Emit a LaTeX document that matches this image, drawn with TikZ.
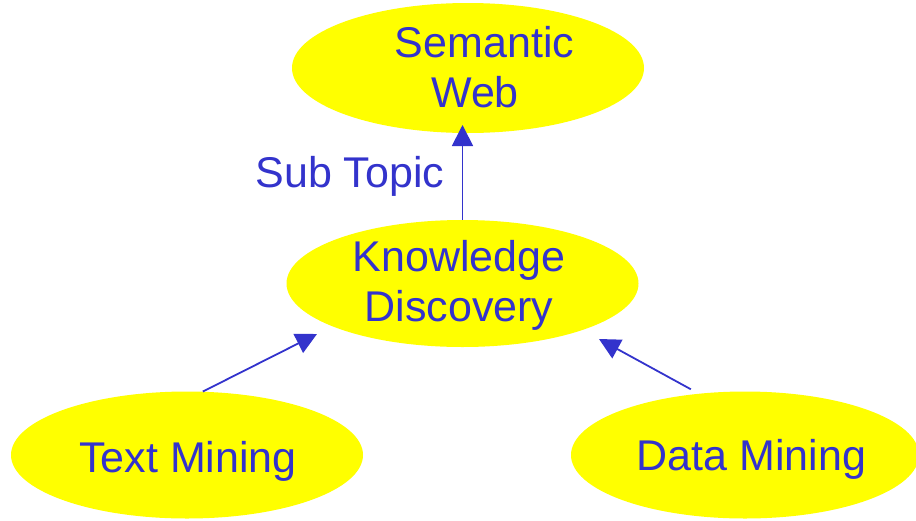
\documentclass[tikz,border=0pt]{standalone}
\usepackage{fontspec}
\setmainfont{Liberation Sans}
\usetikzlibrary{shapes.geometric,arrows.meta}
\definecolor{txtblue}{RGB}{51,51,204}
\definecolor{blobyellow}{RGB}{255,255,0}
\begin{document}
\begin{tikzpicture}[x=1pt,y=-1pt,
  blob/.style={ellipse,fill=blobyellow,draw=none,inner sep=0pt},
  lbl/.style={anchor=base,inner sep=0pt,text=txtblue,font=\fontsize{43}{50}\selectfont},
  conn/.style={draw=txtblue,line width=1.8pt,-{Triangle[length=21pt,width=21pt]}}]
\useasboundingbox (0,0) rectangle (916,520);
\begin{scope}
\clip (0,0) rectangle (916,520);
\node[blob,minimum width=352pt,minimum height=130pt] (sw) at (468,68) {};
\node[blob,minimum width=352pt,minimum height=127pt] (kd) at (462.5,283.5) {};
\node[blob,minimum width=352pt,minimum height=127pt] (tm) at (187,455) {};
\node[blob,minimum width=348pt,minimum height=127pt] (dm) at (745,455) {};
\end{scope}
\node[lbl] (sw1) at (484.5,57) {Semantic};
\node[lbl] (sw2) at (475,107) {Web};
\node[lbl] (kd1) at (459,271) {Knowledge};
\node[lbl] (kd2) at (459,321) {Discovery};
\node[lbl] (tm1) at (188,472) {Text Mining};
\node[lbl] (dm1) at (751.5,470) {Data Mining};
\node[lbl] (st) at (350,187) {Sub Topic};
\coordinate (swin) at (462.5,125);
\coordinate (kdin1) at (317,334);
\coordinate (kdin2) at (599,339);
\draw[conn] (kd.north) -- (swin);
\draw[conn] (tm.76.6) -- (kdin1);
\draw[conn,shorten <=9pt] (dm.127) -- (kdin2);
\end{tikzpicture}
\end{document}
